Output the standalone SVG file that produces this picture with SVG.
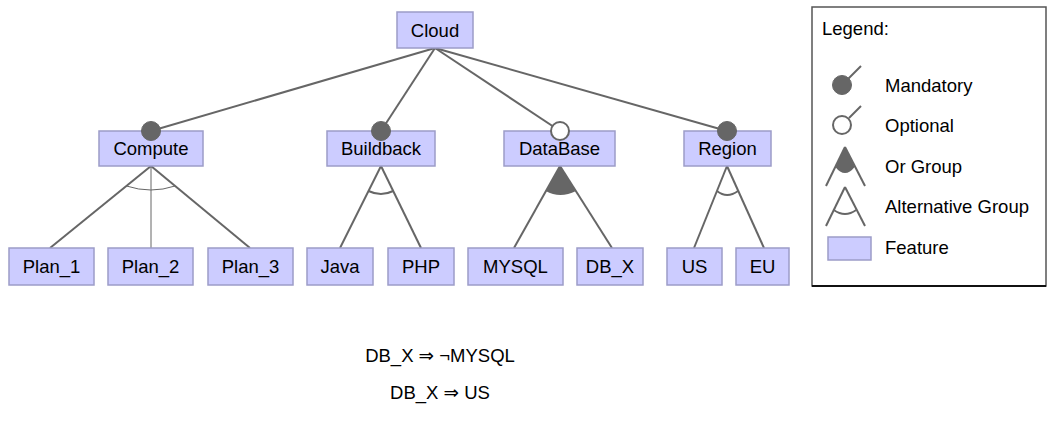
<svg xmlns="http://www.w3.org/2000/svg" width="1047" height="430" viewBox="0 0 1047 430">
  <style>
    .feat rect { fill: #ccccff; stroke: #9c9cc8; stroke-width: 1.5; }
    text { font-family: "Liberation Sans", Arial, "DejaVu Sans", sans-serif; font-size: 18.5px; fill: #000; }
    .feat text { text-anchor: middle; }
    .edge { stroke: #666; stroke-width: 2; fill: none; }
    .thin { stroke: #666; stroke-width: 1; fill: none; }
    .mand { fill: #666; stroke: #666; stroke-width: 1; }
    .opt { fill: #fff; stroke: #666; stroke-width: 2; }
    .orfill { fill: #666; stroke: none; }
  </style>

  <!-- connectors -->
  <g id="connectors">
    <!-- root to children -->
    <line class="edge" x1="435" y1="48" x2="151" y2="131"/>
    <line class="edge" x1="435" y1="48" x2="381" y2="131"/>
    <line class="edge" x1="435" y1="48" x2="560" y2="131"/>
    <line class="edge" x1="435" y1="48" x2="727" y2="131"/>

    <!-- Compute: alternative group -->
    <line class="edge" x1="151" y1="166" x2="50" y2="248"/>
    <line class="thin" x1="151" y1="166" x2="151" y2="248"/>
    <line class="edge" x1="151" y1="166" x2="250" y2="248"/>
    <path class="thin" d="M126.4,186 Q151,194 175,186"/>

    <!-- Buildback: alternative group -->
    <line class="edge" x1="381" y1="166" x2="340" y2="248"/>
    <line class="edge" x1="381" y1="166" x2="421" y2="248"/>
    <path class="edge" d="M368.5,191 Q381,197 393.2,191"/>

    <!-- DataBase: or group -->
    <path class="orfill" d="M560,166 L545.7,191 Q560,199 576,191 Z"/>
    <line class="edge" x1="560" y1="166" x2="514" y2="248"/>
    <line class="edge" x1="560" y1="166" x2="612" y2="248"/>

    <!-- Region: alternative group -->
    <line class="edge" x1="727" y1="166" x2="694" y2="248"/>
    <line class="edge" x1="727" y1="166" x2="764" y2="248"/>
    <path class="edge" d="M717,191 Q727,199 738,191"/>
  </g>

  <!-- features -->
  <g id="cloud" class="feat"><rect x="397" y="12" width="76" height="36"/><text x="435" y="36.5">Cloud</text></g>

  <g id="compute" class="feat"><rect x="99" y="131" width="104" height="35"/><text x="151" y="155">Compute</text></g>
  <g id="buildback" class="feat"><rect x="327" y="131" width="108" height="35"/><text x="381" y="155">Buildback</text></g>
  <g id="database" class="feat"><rect x="504" y="131" width="111" height="35"/><text x="559.5" y="155">DataBase</text></g>
  <g id="region" class="feat"><rect x="684" y="131" width="87" height="35"/><text x="727.5" y="155">Region</text></g>

  <g id="plan1" class="feat"><rect x="9" y="248" width="85" height="37"/><text x="51.5" y="273">Plan_1</text></g>
  <g id="plan2" class="feat"><rect x="108" y="248" width="85" height="37"/><text x="150.5" y="273">Plan_2</text></g>
  <g id="plan3" class="feat"><rect x="208" y="248" width="85" height="37"/><text x="250.5" y="273">Plan_3</text></g>
  <g id="java" class="feat"><rect x="307" y="248" width="66" height="37"/><text x="340" y="273">Java</text></g>
  <g id="php" class="feat"><rect x="388" y="248" width="66" height="37"/><text x="421" y="273">PHP</text></g>
  <g id="mysql" class="feat"><rect x="468" y="248" width="95" height="37"/><text x="515.5" y="273">MYSQL</text></g>
  <g id="db_x" class="feat"><rect x="577" y="248" width="66" height="37"/><text x="610" y="273">DB_X</text></g>
  <g id="us" class="feat"><rect x="667" y="248" width="55" height="37"/><text x="694.5" y="273">US</text></g>
  <g id="eu" class="feat"><rect x="736" y="248" width="53" height="37"/><text x="762.5" y="273">EU</text></g>

  <!-- mandatory / optional markers, drawn over the feature boxes -->
  <g id="edge-markers">
    <circle class="mand" cx="151" cy="131" r="9.5"/>
    <circle class="mand" cx="381" cy="131" r="9.5"/>
    <circle class="opt" cx="560" cy="131" r="9"/>
    <circle class="mand" cx="727" cy="131" r="9.5"/>
  </g>

  <!-- cross-tree constraints -->
  <g id="constraints">
    <text x="440" y="362" text-anchor="middle">DB_X ⇒ ¬MYSQL</text>
    <text x="440" y="399" text-anchor="middle">DB_X ⇒ US</text>
  </g>

  <!-- legend -->
  <g id="legend">
    <rect x="812" y="7" width="234" height="279" fill="#fff" stroke="#555" stroke-width="1.5"/>
    <line x1="812" y1="286" x2="1046" y2="286" stroke="#111" stroke-width="2"/>
    <text x="822" y="35">Legend:</text>

    <line class="edge" x1="848" y1="79" x2="861" y2="66"/>
    <circle class="mand" cx="842" cy="85" r="9.5"/>
    <text x="885" y="92">Mandatory</text>

    <line class="edge" x1="849" y1="118" x2="861" y2="106"/>
    <circle class="opt" cx="842" cy="125" r="9"/>
    <text x="885" y="132">Optional</text>

    <path class="orfill" d="M845,147 L835.3,167 Q845,179 854.7,167 Z"/>
    <line class="edge" x1="845" y1="147" x2="826" y2="186"/>
    <line class="edge" x1="845" y1="147" x2="865" y2="186"/>
    <text x="885" y="173">Or Group</text>

    <line class="edge" x1="845" y1="187" x2="826" y2="226"/>
    <line class="edge" x1="845" y1="187" x2="865" y2="226"/>
    <path class="edge" d="M833.8,210 Q845,218 856.2,210"/>
    <text x="885" y="213">Alternative Group</text>

    <g class="feat"><rect x="828" y="237" width="43" height="23"/></g>
    <text x="885" y="254">Feature</text>
  </g>
</svg>
